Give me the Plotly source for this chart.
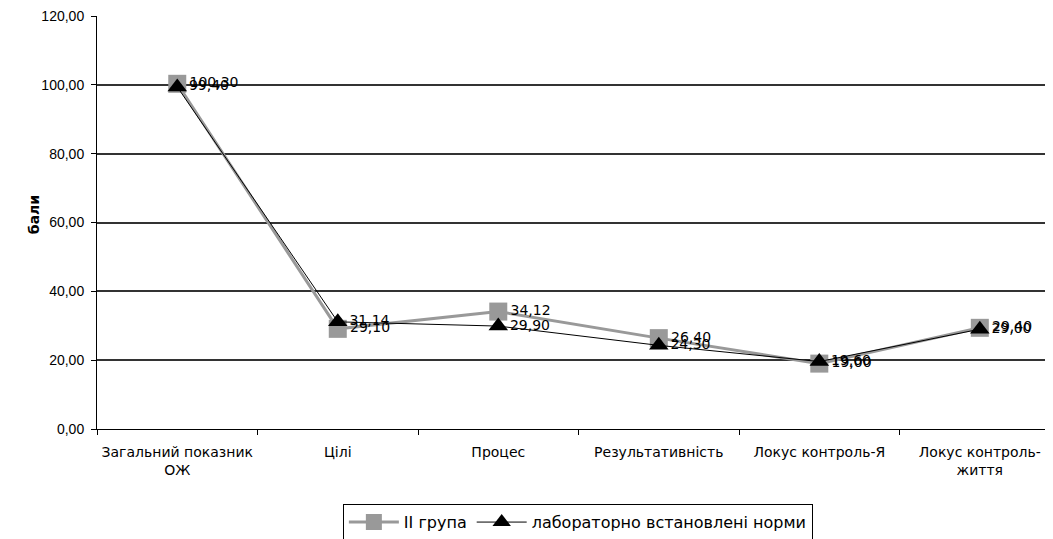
import plotly.graph_objects as go

# categories and values
categories = ['Загальний показник<br>ОЖ', 'Цілі', 'Процес', 'Результативність',
              'Локус контроль-Я', 'Локус контроль-<br>життя']
group2 = [100.30, 29.10, 34.12, 26.40, 19.00, 29.40]
norms = [99.40, 31.14, 29.90, 24.30, 19.60, 29.00]

FONT = 'DejaVu Sans, Liberation Sans, Arial'

fig = go.Figure()

fig.add_trace(go.Scatter(
    x=categories, y=group2, name='II група',
    mode='lines+markers+text',
    line=dict(color='#999999', width=3),
    marker=dict(symbol='square', size=18, color='#999999'),
    text=[f'{v:.2f}'.replace('.', ',') for v in group2],
    textposition='middle right',
    textfont=dict(family=FONT, size=14, color='black'),
))

fig.add_trace(go.Scatter(
    x=categories, y=norms, name='лабораторно встановлені норми',
    mode='lines+markers+text',
    line=dict(color='black', width=1),
    marker=dict(symbol='triangle-up', size=17, color='black'),
    text=[f'{v:.2f}'.replace('.', ',') for v in norms],
    textposition='middle right',
    textfont=dict(family=FONT, size=14, color='black'),
))

# the page has an 8px body margin, so the figure is 8px smaller
fig.update_layout(
    width=1045, height=531,
    margin=dict(l=89, r=0, t=8, b=110, autoexpand=False),
    paper_bgcolor='white', plot_bgcolor='white',
    font=dict(family=FONT, size=14, color='black'),
    separators=', ',
    legend=dict(
        orientation='h', x=0.503, xanchor='center', y=-0.182, yanchor='top',
        bordercolor='black', borderwidth=1, font=dict(size=16),
        itemwidth=50,
    ),
    annotations=[dict(
        text='<b>бали</b>', textangle=-90, showarrow=False,
        xref='paper', yref='paper', x=-0.066, y=0.52,
        xanchor='center', yanchor='middle', font=dict(size=14),
    )],
)

fig.update_xaxes(
    type='category', range=[-0.5, 5.456], automargin=False,
    showgrid=False, showline=True, linecolor='black', linewidth=1,
    ticks='outside', tickcolor='black', ticklen=5, ticklabelstandoff=10,
    tickson='boundaries', tickfont=dict(size=14),
)

fig.update_yaxes(
    range=[0, 120], dtick=20, tickformat='.2f', automargin=False,
    showgrid=True, gridcolor='#333333', gridwidth=1.5,
    showline=True, linecolor='black', linewidth=1,
    ticks='outside', tickcolor='black', ticklen=5, ticklabelstandoff=4,
    ticklabeloverflow='allow',
    zeroline=True, zerolinecolor='black',
    tickfont=dict(family='Liberation Sans, Arial', size=14),
)

fig.write_html("out.html")
